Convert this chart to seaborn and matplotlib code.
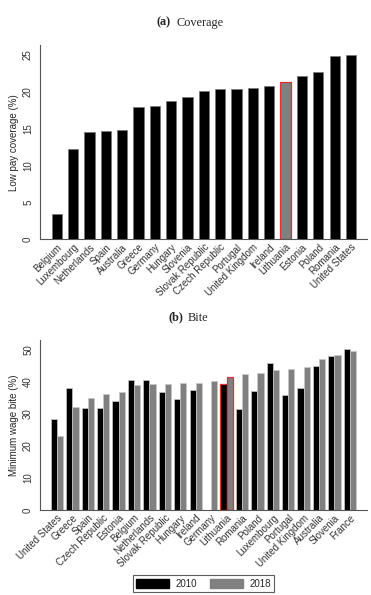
"""Low pay coverage and minimum wage bite by country (two stacked bar panels)."""

import matplotlib
matplotlib.use("Agg")
import matplotlib.pyplot as plt
from matplotlib.patches import Patch
import pandas as pd
import seaborn as sns

# --- data ------------------------------------------------------------------
COV_COUNTRIES = ["Belgium", "Luxembourg", "Netherlands", "Spain", "Australia",
                 "Greece", "Germany", "Hungary", "Slovenia", "Slovak Republic",
                 "Czech Republic", "Portugal", "United Kingdom", "Ireland",
                 "Lithuania", "Estonia", "Poland", "Romania", "United States"]
COV_VALUES = [3.4, 12.2, 14.5, 14.6, 14.8, 17.9, 18.0, 18.7, 19.3, 20.1,
              20.3, 20.4, 20.5, 20.7, 21.3, 22.1, 22.6, 24.8, 25.0]

BITE_COUNTRIES = ["United States", "Greece", "Spain", "Czech Republic", "Estonia",
                  "Belgium", "Netherlands", "Slovak Republic", "Hungary", "Ireland",
                  "Germany", "Lithuania", "Romania", "Poland", "Luxembourg",
                  "Portugal", "United Kingdom", "Australia", "Slovenia", "France"]
BITE_2010 = [28.4, 38.2, 31.7, 32.0, 34.0, 40.5, 40.6, 36.9, 34.7, 37.6,
             None, 39.5, 31.5, 37.1, 45.8, 35.8, 38.0, 45.0, 48.0, 50.2]
BITE_2018 = [23.1, 32.3, 34.9, 36.2, 36.8, 39.1, 39.3, 39.4, 39.6, 39.8,
             40.3, 41.4, 42.6, 42.8, 43.7, 43.9, 44.7, 47.2, 48.4, 49.7]
YEARS = ["2010", "2018"]
HIGHLIGHT = "Lithuania"

BLACK = "#000000"
GREY = "#808080"
AXIS_GREY = "#555555"
TICK_TXT = "#333333"

sns.set_style("white")
plt.rcParams["font.family"] = ["Liberation Sans", "DejaVu Sans"]
plt.rcParams["font.size"] = 7


def style_axis(ax, ylabel, ticks, ylim, xlim):
    ax.set_ylim(*ylim)
    ax.set_xlim(*xlim)
    ax.set_yticks(ticks)
    ax.set_yticklabels([str(t) for t in ticks], rotation=90, va="center",
                       fontsize=7, color=TICK_TXT)
    ax.set_ylabel(ylabel, fontsize=7, labelpad=3)
    ax.set_xlabel("")
    for s in ("top", "right"):
        ax.spines[s].set_visible(False)
    for s in ("left", "bottom"):
        ax.spines[s].set_color(AXIS_GREY)
        ax.spines[s].set_linewidth(0.8)
    ax.tick_params(axis="y", length=3, width=0.6, color=AXIS_GREY, pad=2)
    ax.tick_params(axis="x", length=0, pad=2)
    plt.setp(ax.get_xticklabels(), rotation=45, ha="right",
             rotation_mode="anchor", fontsize=7, color=TICK_TXT)


fig = plt.figure(figsize=(3.71, 5.95), dpi=100)

# --- (a) coverage -----------------------------------------------------------
ax1 = fig.add_axes([0.1078, 0.5978, 0.881, 0.3266])
cov = pd.DataFrame({"country": COV_COUNTRIES, "value": COV_VALUES})
pal = {c: (GREY if c == HIGHLIGHT else BLACK) for c in COV_COUNTRIES}
sns.barplot(data=cov, x="country", y="value", hue="country", palette=pal,
            width=0.63, legend=False, ax=ax1, saturation=1)
for patch, c in zip(ax1.patches, COV_COUNTRIES):
    if c == HIGHLIGHT:
        patch.set_edgecolor("#e03030")
        patch.set_linewidth(0.9)
    else:
        patch.set_edgecolor("#777777")
        patch.set_linewidth(0.5)
style_axis(ax1, "Low pay coverage (%)", [0, 5, 10, 15, 20, 25], (0, 26.3),
           (-1.03, 18.97))

# --- (b) bite ---------------------------------------------------------------
ax2 = fig.add_axes([0.1078, 0.1429, 0.881, 0.2857])
rows = []
for c, v10, v18 in zip(BITE_COUNTRIES, BITE_2010, BITE_2018):
    if v10 is not None:
        rows.append((c, "2010", v10))
    rows.append((c, "2018", v18))
bite = pd.DataFrame(rows, columns=["country", "year", "value"])
sns.barplot(data=bite, x="country", y="value", hue="year", order=BITE_COUNTRIES,
            hue_order=YEARS, palette={"2010": BLACK, "2018": GREY},
            width=0.8, saturation=1, legend=False, ax=ax2)
for cont in ax2.containers:
    year = cont.get_label()
    for patch in cont.patches:
        patch.set_edgecolor("#777777" if year == "2010" else "#c8c8c8")
        patch.set_linewidth(0.5)
hi = BITE_COUNTRIES.index(HIGHLIGHT)
for patch in ax2.patches:
    x = patch.get_x() + patch.get_width() / 2
    if abs(x - hi) < 0.5 and patch.get_height() > 0:
        patch.set_edgecolor("#e03030")
        patch.set_linewidth(0.9)
style_axis(ax2, "Minimum wage bite (%)", [0, 10, 20, 30, 40, 50], (0, 53.1),
           (-1.1, 20.1))

# --- panel captions -------------------------------------------------------
serif = ["Liberation Serif", "DejaVu Serif"]
fig.text(171 / 371, 0.962, "(a)", ha="right", va="center", fontsize=8.8,
         fontweight="bold", family=serif)
fig.text(176.5 / 371, 0.962, "Coverage", ha="left", va="center", fontsize=8.8,
         family=serif)
fig.text(183 / 371, 0.466, "(b)", ha="right", va="center", fontsize=8.8,
         fontweight="bold", family=serif)
fig.text(188 / 371, 0.466, "Bite", ha="left", va="center", fontsize=8.8,
         family=serif)

# --- legend -----------------------------------------------------------------
handles = [Patch(facecolor=BLACK, edgecolor=BLACK, label="2010"),
           Patch(facecolor=GREY, edgecolor=GREY, label="2018")]
leg = fig.legend(handles=handles, loc="center", bbox_to_anchor=(0.5486, 0.0193),
                 ncol=2, fontsize=7, frameon=True, fancybox=False,
                 handlelength=3.4, handleheight=1.1, columnspacing=1.4,
                 handletextpad=0.6, borderpad=0.35, borderaxespad=0)
leg.get_frame().set_edgecolor("#333333")
leg.get_frame().set_linewidth(0.8)

fig.savefig("out.png", dpi=100)
plt.close(fig)
